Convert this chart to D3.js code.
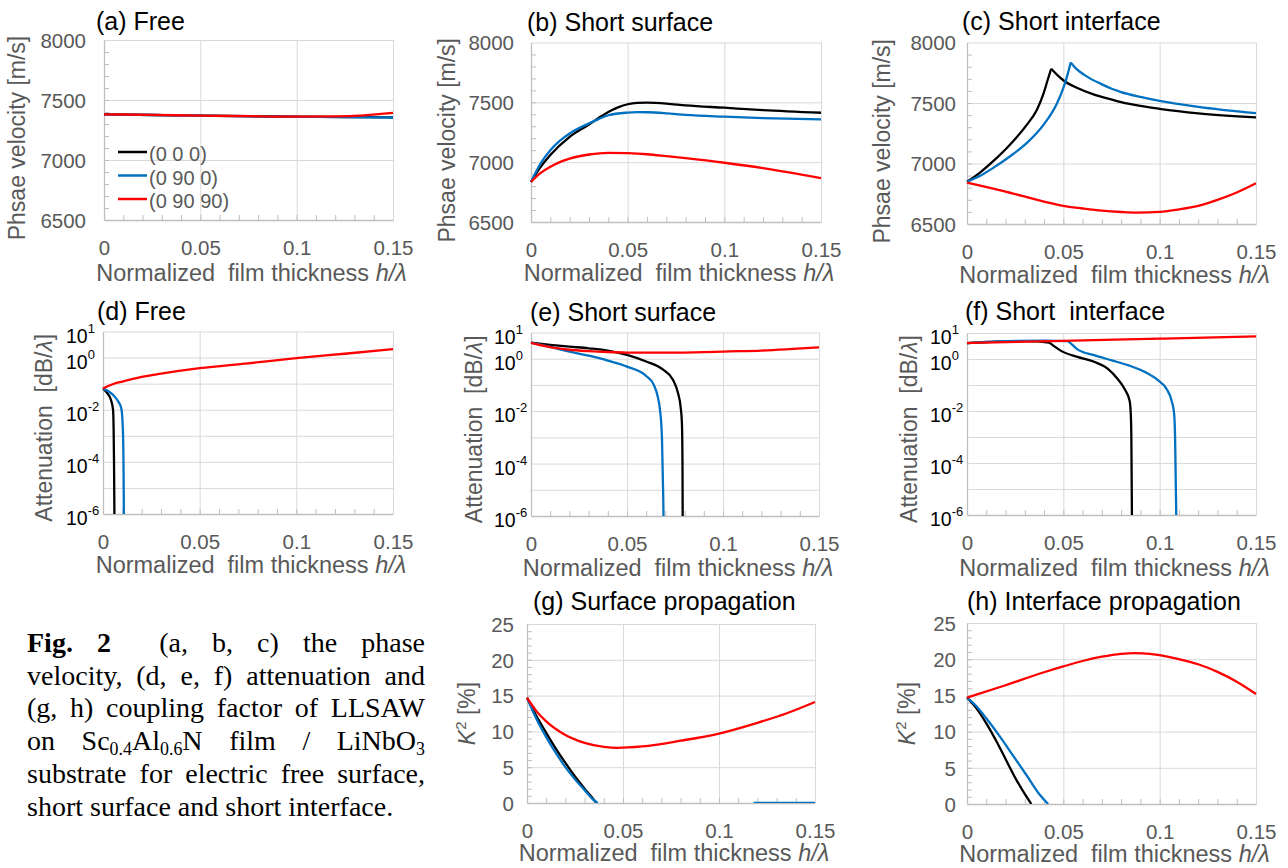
<!DOCTYPE html>
<html lang="en">
<head>
<meta charset="UTF-8">
<title>LLSAW on ScAlN film / LiNbO3</title>
<script src="https://d3js.org/d3.v7.min.js"></script>
<style>
  body { margin: 0; background: #fff; }
  #wrap { position: relative; width: 1288px; height: 868px; overflow: hidden; }
  svg text { font-family: "Liberation Sans", Arial, sans-serif; }
  #caption { position: absolute; left: 27px; top: 627px; width: 398px;
             font-family: "Liberation Serif", "Times New Roman", serif;
             font-size: 28px; line-height: 32.7px; color: #000; }
  #caption div { text-align: justify; text-align-last: justify; }
  #caption div.last { text-align: left; text-align-last: left; }
  #caption sub { font-size: 0.64em; line-height: 0; vertical-align: baseline; position: relative; top: 0.28em; }
</style>
</head>
<body>
<div id="wrap">
  <div id="chart"></div>
  <div id="caption">
    <div><b>Fig. 2</b>&nbsp; (a, b, c) the phase</div>
    <div>velocity, (d, e, f) attenuation and</div>
    <div>(g, h) coupling factor of LLSAW</div>
    <div>on Sc<sub>0.4</sub>Al<sub>0.6</sub>N film / LiNbO<sub>3</sub></div>
    <div>substrate for electric free surface,</div>
    <div class="last">short surface and short interface.</div>
  </div>
</div>
<script>
// ---- data ----
var xTicks = [0, 0.05, 0.1, 0.15];
var seriesNames = ["(0 0 0)", "(0 90 0)", "(0 90 90)"];
var seriesColors = ["#000000", "#0070c0", "#ff0000"];
var velTicks = [6500, 7000, 7500, 8000];
var attGrid = [1e-6, 1e-5, 1e-4, 1e-3, 1e-2, 1e-1, 1, 10];
var attLabelExp = [1, 0, -2, -4, -6];
var k2Ticks = [0, 5, 10, 15, 20, 25];

// (a) phase velocity, free [m/s]
var velFree000 = [[0,7380],[0.025,7375],[0.05,7370],[0.075,7365],[0.1,7361],[0.125,7358],[0.15,7355]];
var velFree0900 = [[0,7380],[0.025,7375],[0.05,7369],[0.075,7364],[0.1,7360],[0.125,7357],[0.15,7354]];
var velFree09090 = [[0,7381],[0.025,7376],[0.05,7370],[0.075,7365],[0.1,7361],[0.12,7363],[0.135,7372],[0.15,7392]];

// (b) phase velocity, short surface
var velSS000 = [[0,6835],[0.005,6960],[0.01,7060],[0.02,7212],[0.03,7315],[0.035,7370],[0.04,7420],[0.045,7458],[0.05,7484],[0.055,7495],[0.06,7497],[0.07,7490],[0.08,7475],[0.1,7455],[0.12,7435],[0.15,7413]];
var velSS0900 = [[0,6835],[0.005,6990],[0.01,7100],[0.015,7180],[0.02,7240],[0.03,7324],[0.035,7360],[0.04,7392],[0.05,7414],[0.055,7418],[0.06,7417],[0.07,7408],[0.08,7395],[0.1,7380],[0.12,7368],[0.15,7357]];
var velSS09090 = [[0,6835],[0.005,6910],[0.01,6962],[0.02,7030],[0.03,7064],[0.04,7078],[0.05,7075],[0.06,7066],[0.07,7050],[0.08,7033],[0.1,6995],[0.12,6950],[0.135,6910],[0.15,6866]];

// (c) phase velocity, short interface
var velSI000 = [[0,6849],[0.0066,6923],[0.0136,7019],[0.0224,7157],[0.0311,7321],[0.0363,7445],[0.0398,7582],[0.0419,7692],[0.0437,7783],[0.0468,7733],[0.0503,7684],[0.0573,7624],[0.066,7569],[0.0748,7530],[0.08,7508],[0.09,7476],[0.1,7452],[0.12,7415],[0.15,7382]];
var velSI0900 = [[0,6849],[0.0066,6896],[0.0136,6964],[0.0224,7060],[0.0311,7170],[0.0398,7321],[0.0468,7500],[0.0503,7637],[0.0524,7747],[0.0538,7835],[0.0564,7788],[0.0625,7716],[0.0695,7658],[0.0748,7620],[0.08,7590],[0.09,7550],[0.1,7517],[0.12,7468],[0.15,7416]];
var velSI09090 = [[0,6842],[0.02,6768],[0.04,6685],[0.05,6649],[0.06,6628],[0.07,6610],[0.08,6599],[0.088,6594],[0.1,6600],[0.11,6620],[0.12,6649],[0.13,6699],[0.14,6760],[0.15,6836]];

// (d) attenuation, free [dB/lambda]
var attFree000 = [[0,0.066],[0.002,0.045],[0.0041,0.024],[0.0052,0.01],[0.0055,1.7e-3],[0.0057,1e-4],[0.0059,1e-6],[0.006,1e-7]];
var attFree0900 = [[0,0.066],[0.003,0.05],[0.0055,0.035],[0.008,0.02],[0.0095,0.011],[0.0103,1.6e-3],[0.0106,1e-4],[0.0108,1e-6],[0.0109,1e-7]];
var attFree09090 = [[0,0.066],[0.005,0.095],[0.01,0.12],[0.02,0.18],[0.03,0.24],[0.05,0.39],[0.075,0.6],[0.1,0.95],[0.125,1.4],[0.15,2.1]];

// (e) attenuation, short surface
var attSS000 = [[0,4.1],[0.01,3.4],[0.02,2.9],[0.03,2.5],[0.04,2.05],[0.05,1.4],[0.06,0.78],[0.0688,0.38],[0.074,0.155],[0.0766,0.048],[0.0779,0.015],[0.0786,3.5e-3],[0.0789,1e-4],[0.079,1e-6],[0.0791,1e-7]];
var attSS0900 = [[0,4.1],[0.01,2.8],[0.02,1.86],[0.03,1.3],[0.04,0.85],[0.05,0.5],[0.06,0.22],[0.064,0.1],[0.066,0.036],[0.0672,0.011],[0.0682,1e-3],[0.0688,1e-5],[0.069,1e-6],[0.0691,1e-7]];
var attSS09090 = [[0,4.0],[0.01,2.75],[0.02,2.2],[0.03,1.95],[0.04,1.8],[0.05,1.72],[0.07,1.7],[0.09,1.78],[0.1,1.88],[0.12,2.05],[0.15,2.7]];

// (f) attenuation, short interface
var attSI000 = [[0,4.1],[0.01,4.5],[0.02,4.8],[0.031,4.9],[0.0425,4.3],[0.045,3.2],[0.0486,2.1],[0.0573,1.2],[0.066,0.78],[0.073,0.43],[0.0782,0.17],[0.0818,0.07],[0.0844,0.025],[0.085,0.008],[0.0853,1e-3],[0.0855,1e-5],[0.0856,1e-6],[0.0857,1e-7]];
var attSI0900 = [[0,4.1],[0.02,4.9],[0.04,5.1],[0.052,4.9],[0.0547,3.5],[0.0573,2.35],[0.066,1.4],[0.0748,0.9],[0.0835,0.58],[0.0922,0.32],[0.0992,0.15],[0.1036,0.07],[0.1062,0.025],[0.1075,0.008],[0.108,1e-3],[0.1084,1e-5],[0.1086,1e-6],[0.1087,1e-7]];
var attSI09090 = [[0,4.1],[0.05,4.97],[0.1,6.07],[0.15,7.4]];

// (g) K2 [%], surface propagation
var k2Surf000 = [[0,14.7],[0.005,12.1],[0.01,9.8],[0.015,7.6],[0.02,5.6],[0.025,3.7],[0.03,2.0],[0.035,0.4],[0.0362,0]];
var k2Surf0900 = [[0,14.7],[0.005,11.7],[0.01,9.2],[0.015,7.0],[0.02,5.0],[0.025,3.3],[0.03,1.8],[0.035,0.35],[0.0368,0],[0.08,null],[0.118,0],[0.15,0]];
var k2Surf09090 = [[0,14.7],[0.005,12.8],[0.01,11.4],[0.02,9.5],[0.03,8.4],[0.04,7.85],[0.047,7.7],[0.06,7.9],[0.08,8.7],[0.1,9.7],[0.12,11.2],[0.135,12.5],[0.15,14.1]];

// (h) K2 [%], interface propagation
var k2Int000 = [[0,14.7],[0.0049,13.2],[0.0101,11.1],[0.0154,8.6],[0.0206,5.9],[0.0259,3.2],[0.0302,1.3],[0.0334,0]];
var k2Int0900 = [[0,14.7],[0.0049,13.5],[0.0101,11.8],[0.0171,9.3],[0.0241,6.6],[0.0311,3.9],[0.038,1.2],[0.0421,0]];
var k2Int09090 = [[0,14.7],[0.02,16.4],[0.04,18.2],[0.05,19.0],[0.06,19.75],[0.07,20.35],[0.08,20.75],[0.087,20.85],[0.095,20.75],[0.1,20.55],[0.11,20.0],[0.12,19.3],[0.13,18.25],[0.14,16.9],[0.15,15.2]];

// ---- layout ----
var gray = "#595959";
var panels = [
  {kind: "vel", title: "(a) Free", L: 104, R: 393, T: 40, B: 220, tx: 96, ty: 30, yx: 25, lg: 18, xt: 61,
   series: [velFree000, velFree0900, velFree09090], legend: true},
  {kind: "vel", title: "(b) Short surface", L: 531, R: 821, T: 42.5, B: 222, tx: 527, ty: 30.5, yx: 455, lg: 17, xt: 59,
   series: [velSS000, velSS0900, velSS09090]},
  {kind: "vel", title: "(c) Short interface", L: 967, R: 1256, T: 42.5, B: 224, tx: 962, ty: 30, yx: 890, lg: 11, xt: 59,
   series: [velSI000, velSI0900, velSI09090], cusp: true},
  {kind: "att", title: "(d) Free", L: 103, R: 393, T: 331.5, B: 514, tx: 97, ty: 320, yx: 52, xt: 59,
   series: [attFree000, attFree0900, attFree09090]},
  {kind: "att", title: "(e) Short surface", L: 531, R: 819, T: 332.5, B: 516, tx: 530, ty: 320.5, yx: 482, xt: 60,
   series: [attSS000, attSS0900, attSS09090]},
  {kind: "att", title: "(f) Short  interface", L: 967, R: 1256, T: 333, B: 515, tx: 965, ty: 320, yx: 917, xt: 61,
   series: [attSI000, attSI0900, attSI09090]},
  {kind: "k2", title: "(g) Surface propagation", L: 527, R: 815, T: 624, B: 803, tx: 533, ty: 610, yx: 475, lg: 13, xt: 58,
   series: [k2Surf000, k2Surf0900, k2Surf09090]},
  {kind: "k2", title: "(h) Interface propagation", L: 967, R: 1256, T: 623, B: 804, tx: 967, ty: 610, yx: 915, lg: 11, xt: 58,
   series: [k2Int000, k2Int0900, k2Int09090]}
];

var svg = d3.select("#chart").append("svg")
    .attr("width", 1288).attr("height", 868)
    .style("position", "absolute").style("left", 0).style("top", 0);

function drawPanel(p, i) {
  var h = p.B - p.T;
  var x = d3.scaleLinear().domain([0, 0.15]).range([p.L, p.R]);
  var y;
  if (p.kind === "att") y = d3.scaleLog().domain([1e-6, 10]).range([p.B, p.T]);
  else if (p.kind === "vel") y = d3.scaleLinear().domain([6500, 8000]).range([p.B, p.T]);
  else y = d3.scaleLinear().domain([0, 25]).range([p.B, p.T]);
  var yMajor = p.kind === "att" ? attGrid : (p.kind === "vel" ? velTicks : k2Ticks);

  var g = svg.append("g");

  // grid lines
  g.append("g").attr("transform", "translate(0," + p.B + ")")
    .call(d3.axisBottom(x).tickValues(xTicks.slice(1)).tickSize(-h).tickFormat("").tickSizeOuter(0))
    .call(function(s) { s.select(".domain").remove(); s.selectAll("line").attr("stroke", "#d9d9d9"); });
  g.append("g").attr("transform", "translate(" + p.L + ",0)")
    .call(d3.axisLeft(y).tickValues(yMajor.slice(1)).tickSize(-(p.R - p.L)).tickFormat("").tickSizeOuter(0))
    .call(function(s) { s.select(".domain").remove(); s.selectAll("line").attr("stroke", "#d9d9d9"); });

  // minor inner ticks
  g.append("g").attr("transform", "translate(0," + p.B + ")")
    .call(d3.axisBottom(x).tickValues(d3.range(1, 15).map(function(k) { return k / 100; })).tickSize(-5).tickFormat(""))
    .call(function(s) { s.select(".domain").remove(); s.selectAll("line").attr("stroke", "#bfbfbf"); });
  if (p.kind !== "att") {
    var step = p.kind === "vel" ? 100 : 1;
    var lo = p.kind === "vel" ? 6500 : 0, hi = p.kind === "vel" ? 8000 : 25;
    g.append("g").attr("transform", "translate(" + p.L + ",0)")
      .call(d3.axisLeft(y).tickValues(d3.range(lo + step, hi, step)).tickSize(-5).tickFormat(""))
      .call(function(s) { s.select(".domain").remove(); s.selectAll("line").attr("stroke", "#bfbfbf"); });
  }

  // axis lines + x labels
  g.append("g").attr("transform", "translate(0," + p.B + ")")
    .call(d3.axisBottom(x).tickValues(xTicks).tickSize(0).tickSizeOuter(0).tickFormat(function(d) { return String(d); }))
    .call(function(s) {
      s.select(".domain").attr("stroke", "#bfbfbf").attr("stroke-width", 1.3);
      s.selectAll("text").attr("y", 27.5).attr("dy", "0.36em")
        .attr("fill", gray).attr("font-size", 20.5).attr("font-family", "Liberation Sans, Arial, sans-serif");
    });
  g.append("g").attr("transform", "translate(" + p.L + ",0)")
    .call(d3.axisLeft(y).tickValues([]).tickSizeOuter(0))
    .call(function(s) { s.select(".domain").attr("stroke", "#bfbfbf").attr("stroke-width", 1.3); });

  // y labels
  if (p.kind === "att") {
    attLabelExp.forEach(function(e) {
      var t = g.append("text").attr("x", p.L - 37).attr("y", y(Math.pow(10, e)) + 4)
        .attr("dy", "0.36em").attr("fill", "#000").attr("font-size", 19.5);
      t.append("tspan").text("10");
      t.append("tspan").attr("font-size", 13).attr("dy", "-0.75em").text(e);
    });
  } else {
    g.append("g").attr("transform", "translate(" + p.L + ",0)")
      .call(d3.axisLeft(y).tickValues(yMajor).tickSize(0).tickFormat(d3.format("d")))
      .call(function(s) {
        s.select(".domain").remove();
        s.selectAll("text").attr("x", -p.lg).attr("dy", "0.36em")
          .attr("fill", gray).attr("font-size", 20.5).attr("font-family", "Liberation Sans, Arial, sans-serif");
      });
  }

  // panel title
  g.append("text").attr("x", p.tx).attr("y", p.ty).attr("font-size", 25).attr("fill", "#000")
    .style("white-space", "pre").text(p.title);

  // x title
  var xt = g.append("text").attr("x", (p.L + p.R) / 2 + 3).attr("y", p.B + p.xt)
    .attr("text-anchor", "middle").attr("font-size", 23.5).attr("fill", gray).style("white-space", "pre");
  xt.append("tspan").text("Normalized  film thickness ");
  xt.append("tspan").attr("font-style", "italic").text("h/\u03bb");

  // y title
  var yc = (p.T + p.B) / 2 + (p.kind === "vel" ? 8 : (p.kind === "att" ? 5 : 0));
  var yt = g.append("text").attr("transform", "translate(" + p.yx + "," + yc + ") rotate(-90)")
    .attr("text-anchor", "middle").attr("font-size", 23).attr("fill", gray).style("white-space", "pre");
  if (p.kind === "vel") yt.text("Phsae velocity [m/s]");
  else if (p.kind === "att") {
    yt.append("tspan").text("Attenuation  [dB/");
    yt.append("tspan").attr("font-style", "italic").text("\u03bb");
    yt.append("tspan").text("]");
  } else {
    yt.append("tspan").attr("font-style", "italic").text("K");
    yt.append("tspan").attr("font-size", 15).attr("dy", "-0.6em").text("2");
    yt.append("tspan").attr("dy", "0.4em").text(" [%]");
  }

  // curves
  var clipId = "clip" + i;
  svg.append("clipPath").attr("id", clipId).append("rect")
    .attr("x", p.L - 2).attr("y", p.T - 2).attr("width", p.R - p.L + 4).attr("height", h + 2);
  var line = d3.line()
    .defined(function(d) { return d[1] != null; })
    .x(function(d) { return x(d[0]); })
    .y(function(d) { return y(d[1]); })
    .curve(d3.curveMonotoneX);
  var lines = g.append("g").attr("clip-path", "url(#" + clipId + ")");
  p.series.forEach(function(data, k) {
    var parts = [data];
    if (p.cusp && k < 2) {
      var im = d3.maxIndex(data, function(d) { return d[1]; });
      parts = [data.slice(0, im + 1), data.slice(im)];
    }
    parts.forEach(function(part) {
      lines.append("path").attr("d", line(part)).attr("fill", "none")
        .attr("stroke", seriesColors[k]).attr("stroke-width", 2.3);
    });
  });

  // legend
  if (p.legend) {
    seriesNames.forEach(function(name, k) {
      var ly = p.T + 112 + k * 23.5;
      g.append("line").attr("x1", p.L + 14).attr("x2", p.L + 43).attr("y1", ly).attr("y2", ly)
        .attr("stroke", seriesColors[k]).attr("stroke-width", 2.5);
      g.append("text").attr("x", p.L + 45).attr("y", ly + 2).attr("dy", "0.35em")
        .attr("font-size", 20).attr("fill", gray).text(name);
    });
  }
}

panels.forEach(drawPanel);
</script>
</body>
</html>
